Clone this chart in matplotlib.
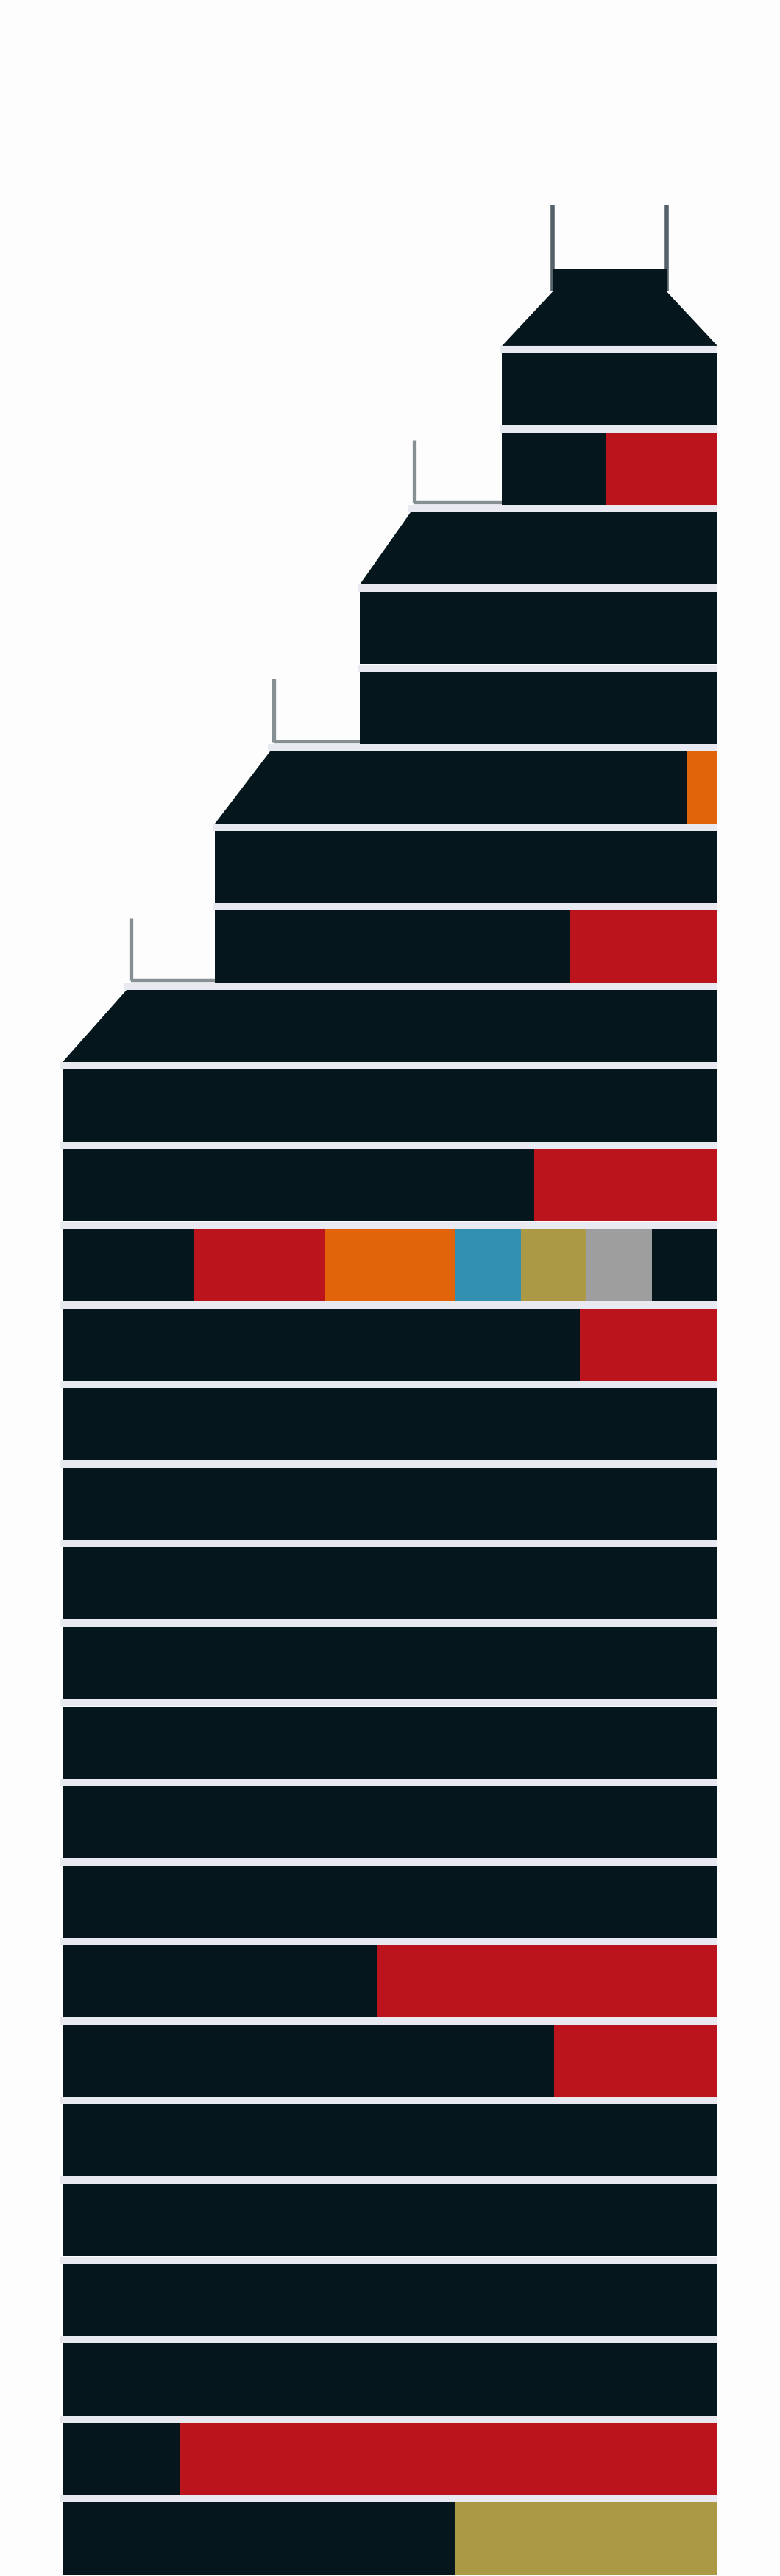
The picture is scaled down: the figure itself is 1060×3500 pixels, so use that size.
import matplotlib
matplotlib.use("Agg")
import matplotlib.pyplot as plt

# --- colours ---
palette = {
    "base": "#06161d",
    "red": "#bc141c",
    "orange": "#e1640a",
    "blue": "#3290b1",
    "olive": "#ab9945",
    "grey": "#9e9e9e",
}
SEP_COLOR = "#e9e9f2"
BG = "#fdfdfd"
ANTENNA = "#56626a"
LEDGE = "#868f94"

# --- data: one entry per floor, top floor first (share of the base width) ---
floor_width = [32.9, 32.9, 54.6, 54.6, 54.6, 76.7, 76.7, 76.7] + [100] * 20

# setback floors: width of their (narrower) top edge
chamfer_top = {2: 46.9, 5: 68.3, 8: 90.2}

segments = [
    [("base", 32.9)],
    [("base", 15.9), ("red", 17.0)],
    [("base", 54.6)],
    [("base", 54.6)],
    [("base", 54.6)],
    [("base", 72.1), ("orange", 4.6)],
    [("base", 76.7)],
    [("base", 54.2), ("red", 22.5)],
    [("base", 100)],
    [("base", 100)],
    [("base", 72), ("red", 28)],
    [("base", 20), ("red", 20), ("orange", 20), ("blue", 10),
     ("olive", 10), ("grey", 10), ("base", 10)],
    [("base", 79), ("red", 21)],
    [("base", 100)],
    [("base", 100)],
    [("base", 100)],
    [("base", 100)],
    [("base", 100)],
    [("base", 100)],
    [("base", 100)],
    [("base", 48), ("red", 52)],
    [("base", 75), ("red", 25)],
    [("base", 100)],
    [("base", 100)],
    [("base", 100)],
    [("base", 100)],
    [("base", 18), ("red", 82)],
    [("base", 60), ("olive", 40)],
]

# --- layout ---
PX_PER_UNIT = 8.9       # horizontal pixels per width unit
X0 = 85                 # left edge of the base, pixels
PITCH = 108.15          # floor pitch, pixels
Y0 = 529                # centre of the top floor, pixels
BODY_H = 98 / PITCH     # floor height in floor units
SEP_H = 10 / PITCH      # separator thickness

fig = plt.figure(figsize=(10.6, 35), dpi=100, facecolor=BG)
ax = fig.add_axes([0, 0, 1, 1])
ax.set_facecolor(BG)
ax.set_xlim(-X0 / PX_PER_UNIT, (1060 - X0) / PX_PER_UNIT)
ax.set_ylim((3500 - Y0) / PITCH, -Y0 / PITCH)
ax.axis("off")

right = 100

# --- floors ---
for k, segs in enumerate(segments):
    cursor = right - floor_width[k]
    top, bottom = k - BODY_H / 2, k + BODY_H / 2
    for i, (key, val) in enumerate(segs):
        if i == 0 and k in chamfer_top:
            left_top = right - chamfer_top[k]
            ax.fill([cursor, cursor + val, cursor + val, left_top],
                    [bottom, bottom, top, top],
                    color=palette[key], linewidth=0, zorder=2)
        else:
            ax.barh(k, val, left=cursor, height=BODY_H,
                    color=palette[key], linewidth=0, zorder=2)
        cursor += val

# --- separators between floors ---
for k in range(len(segments)):
    w = chamfer_top.get(k, floor_width[k])
    ext = 0.4 if k in chamfer_top else 0.3
    ax.barh(k - 0.5, w + ext, left=right - w - ext, height=SEP_H,
            color=SEP_COLOR, linewidth=0, zorder=3)

# --- ledge antennas at the setbacks ---
for k, w_top in chamfer_top.items():
    up = k - 1
    x_ant = right - w_top + 0.6
    y_top = up - BODY_H / 2 + 0.09
    y_base = up + BODY_H / 2 - 0.025
    ax.plot([x_ant, x_ant], [y_top, y_base], color=LEDGE, lw=3.8,
            solid_capstyle="butt", zorder=1)
    ax.plot([x_ant, right - floor_width[up]], [y_base, y_base], color=LEDGE,
            lw=3.2, solid_capstyle="butt", zorder=1)

# --- crown on top of the tower ---
w0 = floor_width[0]
inset = 0.235 * w0
crown_bottom = -0.5 - SEP_H / 2
shoulder = crown_bottom - 0.68
crown_top = shoulder - 0.29
mast_top = crown_top - 0.8
x_l, x_r = right - w0, right
ax.fill([x_l, x_l + inset, x_l + inset, x_r - inset, x_r - inset, x_r],
        [crown_bottom, shoulder, crown_top, crown_top, shoulder, crown_bottom],
        color=palette["base"], linewidth=0, zorder=2)
for xm in (x_l + inset, x_r - inset):
    ax.plot([xm, xm], [mast_top, shoulder], color=ANTENNA, lw=4,
            solid_capstyle="butt", zorder=1)

fig.savefig("out.png", dpi=100, facecolor=BG)
